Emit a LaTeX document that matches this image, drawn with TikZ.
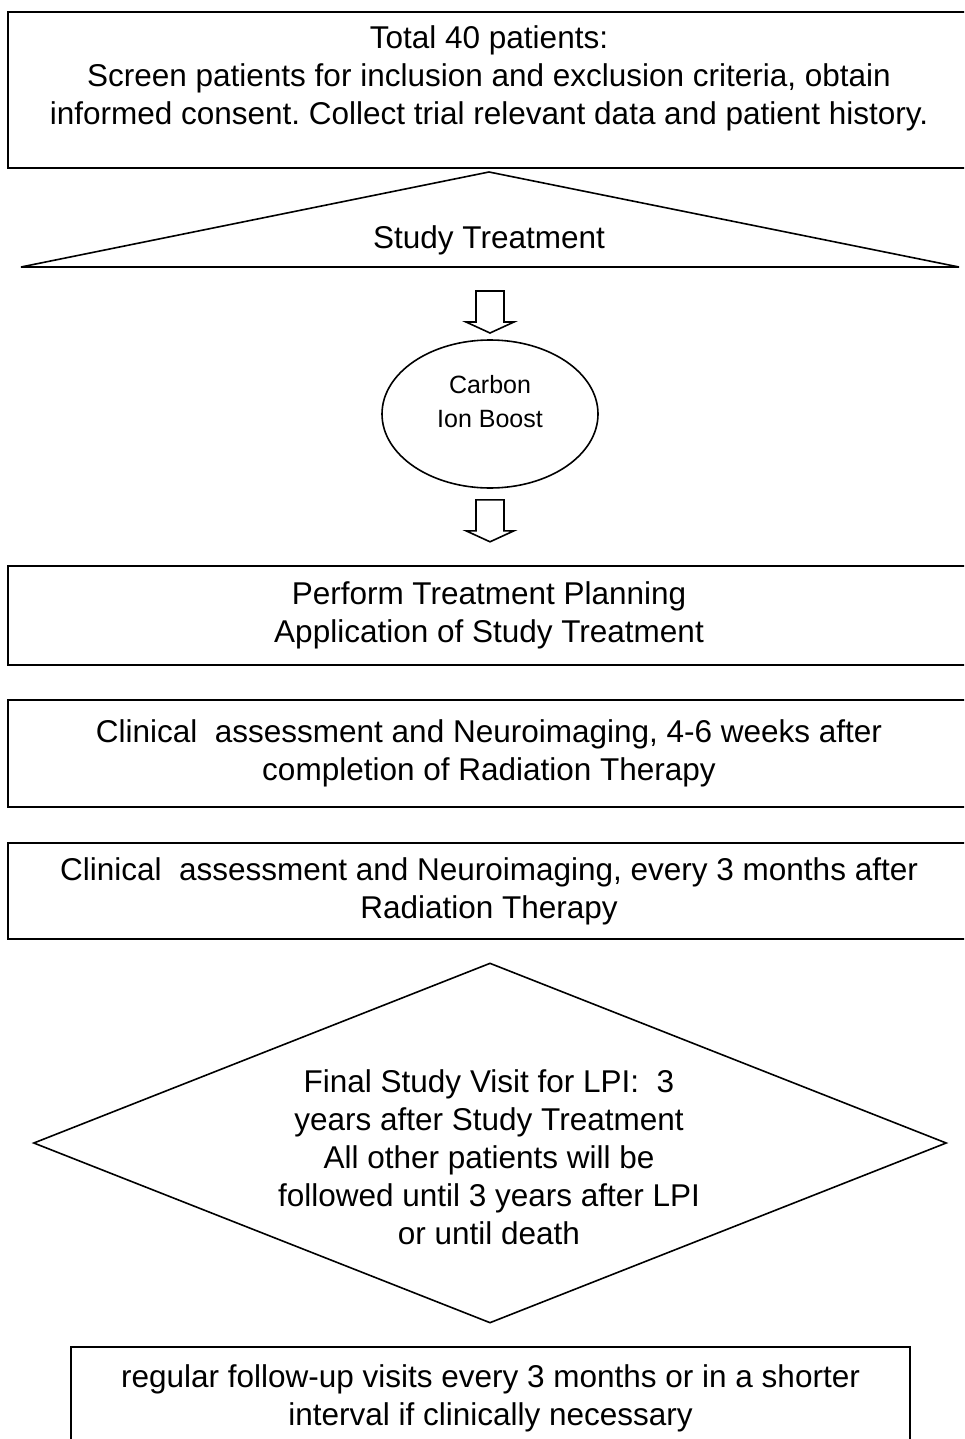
\documentclass[tikz,border=0pt]{standalone}
\usepackage{fontspec}
\setmainfont{Liberation Sans}
\usetikzlibrary{shapes.geometric}

\tikzset{
  box/.style={draw, line width=2pt, rectangle, minimum width=962pt, inner sep=0pt,
    align=center, font=\fontsize{31.5}{38}\selectfont},
  txt/.style={align=center, inner sep=0pt, font=\fontsize{31.5}{38}\selectfont},
  thinline/.style={draw, line width=1.6pt},
  hollowarrow/.pic={\draw[line width=1.6pt, line join=miter]
    (-14,0) -- (14,0) -- (14,31) -- (24,31) -- (0,42) -- (-24,31) -- (-14,31) -- cycle;}
}

\begin{document}
\begin{tikzpicture}[x=1pt, y=-1pt]
    \frenchspacing

    % Cornice
    \useasboundingbox (0,0) rectangle (964,1439);
    \clip (0,0) rectangle (964,1439);

    % Riquadro iniziale
    \node[box, minimum height=156pt] (screen) at (489,90) {};
    \node[txt] (screentxt) at (489,78) {Total 40 patients:\\
      Screen patients for inclusion and exclusion criteria, obtain\\
      informed consent. Collect trial relevant data and patient history.};

    % Triangolo del trattamento
    \coordinate (stapex) at (489,172);
    \coordinate (stleft) at (21,267);
    \coordinate (stright) at (959,267);
    \draw[thinline] (stapex) -- (stright) -- (stleft) -- cycle;
    \node[txt] (sttxt) at (489,240) {Study Treatment};

    % Boost con ioni carbonio
    \node[thinline, ellipse, minimum width=216pt, minimum height=148pt, inner sep=0pt] (cib) at (490,414) {};
    \node[txt, font=\fontsize{25}{34}\selectfont] (cibtxt) at (490,402) {Carbon\\Ion Boost};

    % Frecce
    \path (stleft -| cib.north) ++(0,24) pic {hollowarrow};
    \path (cib.south) ++(0,11) pic {hollowarrow};

    % Pianificazione e controlli
    \node[box, minimum height=99pt] (plan) at (489,615.5) {Perform Treatment Planning\\Application of Study Treatment};
    \node[box, minimum height=107pt] (early) at (489,753.5) {Clinical\ \ assessment and Neuroimaging, 4-6 weeks after\\completion of Radiation Therapy};
    \node[box, minimum height=96pt] (late) at (489,891) {Clinical\ \ assessment and Neuroimaging, every 3 months after\\Radiation Therapy};

    % Visita finale
    \node[thinline, diamond, minimum width=913pt, minimum height=360pt, inner sep=0pt] (final) at (490,1143) {};
    \node[txt] (finaltxt) at (489,1157) {Final Study Visit for LPI:\ \ 3\\
      years after Study Treatment\\
      All other patients will be\\
      followed until 3 years after LPI\\
      or until death};

    % Follow-up
    \node[box, minimum width=839pt, minimum height=103pt] (follow) at (490.5,1398.5) {regular follow-up visits every 3 months or in a shorter\\interval if clinically necessary};

\end{tikzpicture}
\end{document}
